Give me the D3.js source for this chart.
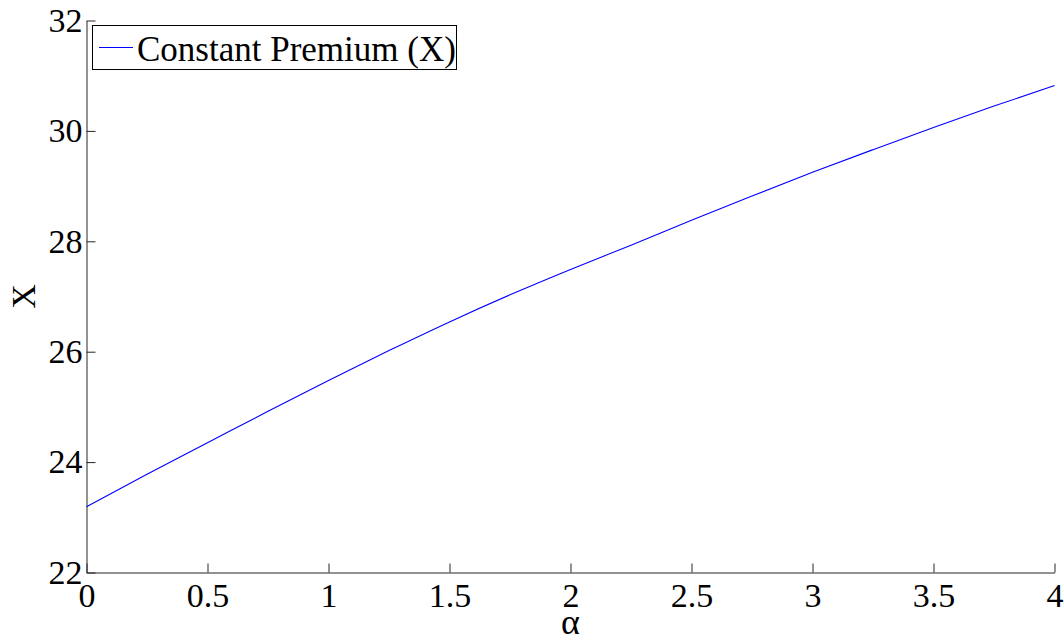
<!DOCTYPE html>
<html>
<head>
<meta charset="utf-8">
<script src="https://cdn.jsdelivr.net/npm/d3@7"></script>
<style>
  html, body { margin: 0; padding: 0; background: #fff; }
  svg { display: block; }
  text { font-family: "Liberation Serif", "Times New Roman", serif; fill: #000; }
</style>
</head>
<body>
<svg id="chart" width="1064" height="638"></svg>
<script>
// Data
const alphaValues = [0, 0.25, 0.5, 0.75, 1.0, 1.25, 1.5, 1.75, 2.0, 2.25, 2.5, 2.75, 3.0, 3.25, 3.5, 3.75, 4.0];
const premiumValues = [23.19, 23.78, 24.35, 24.92, 25.48, 26.02, 26.54, 27.03, 27.49, 27.93, 28.38, 28.82, 29.25, 29.66, 30.06, 30.45, 30.82];
const xTicks = [0, 0.5, 1, 1.5, 2, 2.5, 3, 3.5, 4];
const yTicks = [22, 24, 26, 28, 30, 32];
const seriesName = "Constant Premium (X)";
const xLabel = "α";
const yLabel = "X";

const svg = d3.select("#chart");
const x = d3.scaleLinear().domain([0, 4]).range([86.5, 1054.5]);
const y = d3.scaleLinear().domain([22, 32]).range([572.5, 20.5]);

const fontSize = 34;

// X axis
const gx = svg.append("g").attr("transform", `translate(0,${y(22)})`)
  .call(d3.axisBottom(x).tickValues(xTicks).tickFormat(d3.format("")).tickSizeInner(-9).tickSizeOuter(0).tickPadding(10));
// Y axis
const gy = svg.append("g").attr("transform", `translate(${x(0)},0)`)
  .call(d3.axisLeft(y).tickValues(yTicks).tickFormat(d3.format("")).tickSizeInner(-9).tickSizeOuter(0).tickPadding(4));

[gx, gy].forEach(g => {
  g.select(".domain").attr("stroke", "#262626").attr("stroke-width", 1);
  g.selectAll(".tick line").attr("stroke", "#262626").attr("stroke-width", 1);
  g.selectAll(".tick text").attr("font-size", fontSize).attr("font-family", "Liberation Serif").attr("fill", "#000");
});

// Line
const line = d3.line().x((d, i) => x(alphaValues[i])).y(d => y(d)).curve(d3.curveMonotoneX);
svg.append("path").datum(premiumValues)
  .attr("d", line).attr("fill", "none").attr("stroke", "#0000ff").attr("stroke-width", 1.1);

// Axis labels
svg.append("text").attr("x", (x(0) + x(4)) / 2).attr("y", 634)
  .attr("text-anchor", "middle").attr("font-size", 36).text(xLabel);
svg.append("text").attr("transform", `translate(35,${(y(22) + y(32)) / 2}) rotate(-90)`)
  .attr("text-anchor", "middle").attr("font-size", fontSize).text(yLabel);

// Legend
const leg = svg.append("g");
leg.append("rect").attr("x", 92.5).attr("y", 25.5).attr("width", 364).attr("height", 44)
  .attr("fill", "#fff").attr("stroke", "#000").attr("stroke-width", 1);
leg.append("line").attr("x1", 99).attr("x2", 133).attr("y1", 47.5).attr("y2", 47.5)
  .attr("stroke", "#0000ff").attr("stroke-width", 1);
leg.append("text").attr("x", 137).attr("y", 61).attr("font-size", 35).text(seriesName);
</script>
</body>
</html>
